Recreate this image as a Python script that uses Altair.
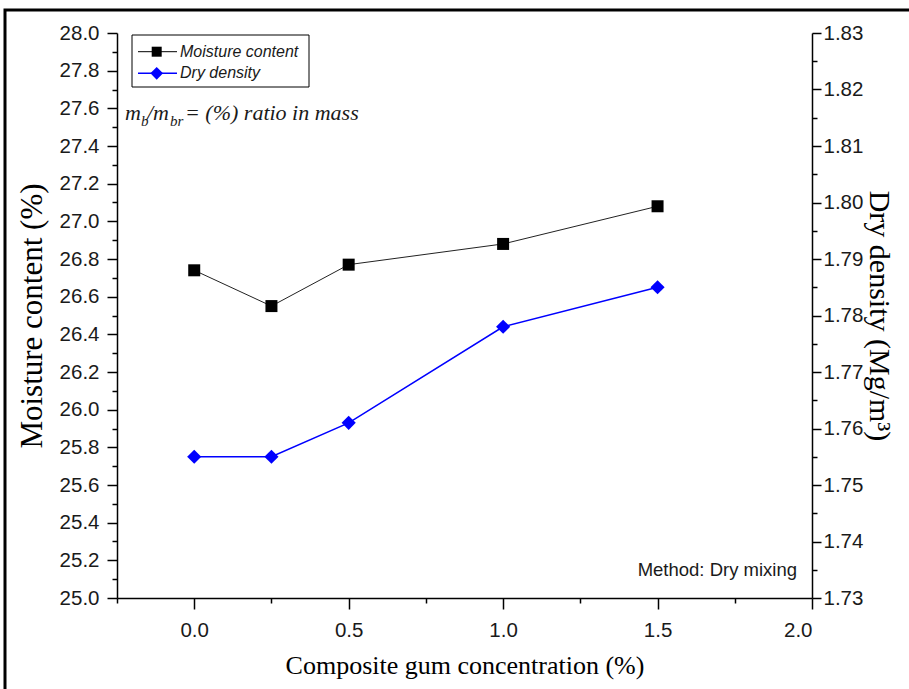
import altair as alt
import pandas as pd

# Measured values
concentration = [0.0, 0.25, 0.5, 1.0, 1.5]          # composite gum concentration (%)
moisture_content = [26.74, 26.55, 26.77, 26.88, 27.08]  # moisture content (%)
dry_density = [1.755, 1.755, 1.761, 1.778, 1.785]      # dry density (Mg/m3)

# Tick positions (major + minor) for each axis
x_ticks = [-0.25, 0.0, 0.25, 0.5, 0.75, 1.0, 1.25, 1.5, 1.75, 2.0]
moisture_ticks = [round(25.0 + 0.1 * i, 1) for i in range(31)]
density_ticks = [round(1.73 + 0.005 * i, 3) for i in range(21)]

df = pd.DataFrame({"conc": concentration, "moisture": moisture_content, "density": dry_density})
one = pd.DataFrame({"k": [0]})

W, H = 695, 565

axis_style = dict(
    grid=False, domainColor="#000", domainWidth=1.5, tickColor="#000", tickWidth=1.5,
    labelFont="Liberation Sans", labelFontSize=20.5, labelColor="#1a1a1a",
    titleFont="Liberation Serif", titleFontWeight="normal", titleColor="#000",
)

def major_test(mult, step):
    return f"abs(round(datum.value*{mult})) % {step} == 0"

x_axis = alt.Axis(
    values=x_ticks,
    labelExpr=f"{major_test(4, 2)} ? format(datum.value, '.1f') : ''",
    tickSize={"condition": {"test": major_test(4, 2), "value": 11}, "value": 5},
    labelPadding=11,
    title="Composite gum concentration (%)", titleFontSize=26,
    titleX=W / 2, titleY=67, titleAlign="center", titleBaseline="middle",
    **axis_style,
)
x_enc = alt.X("conc:Q", scale=alt.Scale(domain=[-0.25, 2.0], nice=False, zero=False), axis=x_axis)

left_axis = alt.Axis(
    orient="left", values=moisture_ticks,
    labelExpr=f"{major_test(10, 2)} ? format(datum.value, '.1f') : ''",
    tickSize={"condition": {"test": major_test(10, 2), "value": 10}, "value": 5},
    labelPadding=8,
    title="Moisture content (%)", titleFontSize=31, titleAngle=-90,
    titleX=-85, titleY=H / 2, titleAlign="center", titleBaseline="middle",
    **axis_style,
)
right_axis = alt.Axis(
    orient="right", values=density_ticks,
    labelExpr=f"{major_test(1000, 10)} ? format(datum.value, '.2f') : ''",
    tickSize={"condition": {"test": major_test(1000, 10), "value": 9}, "value": 5},
    labelPadding=2,
    title="Dry density (Mg/m³)", titleFontSize=30, titleAngle=90,
    titleX=66, titleY=H / 2, titleAlign="center", titleBaseline="middle",
    **axis_style,
)

moist_base = alt.Chart(df).encode(
    x=x_enc,
    y=alt.Y("moisture:Q", scale=alt.Scale(domain=[25.0, 28.0], nice=False, zero=False), axis=left_axis),
)
moisture = alt.layer(
    moist_base.mark_line(color="#222", strokeWidth=1),
    moist_base.mark_point(shape="square", filled=True, size=144, color="#000", opacity=1),
)

dens_base = alt.Chart(df).encode(
    x=x_enc,
    y=alt.Y("density:Q", scale=alt.Scale(domain=[1.73, 1.83], nice=False, zero=False), axis=right_axis),
)
density = alt.layer(
    dens_base.mark_line(color="#0000ff", strokeWidth=1.5),
    dens_base.mark_point(shape="diamond", filled=True, size=200, color="#0000ff", opacity=1),
)

# Outer frame around the figure
frame = alt.Chart(one).mark_rect(filled=False, stroke="#000", strokeWidth=3).encode(
    x=alt.value(-112), x2=alt.value(W + 300), y=alt.value(-23), y2=alt.value(H + 300)
)

# Legend box
leg_box = alt.Chart(one).mark_rect(fill="white", stroke="#000", strokeWidth=1).encode(
    x=alt.value(15), x2=alt.value(192), y=alt.value(2), y2=alt.value(54)
)
leg_line1 = alt.Chart(one).mark_rule(color="#000", strokeWidth=1).encode(
    x=alt.value(21), x2=alt.value(60), y=alt.value(18.7)
)
leg_sym1 = alt.Chart(one).mark_point(shape="square", filled=True, size=100, color="#000", opacity=1).encode(
    x=alt.value(39.7), y=alt.value(18.7)
)
leg_line2 = alt.Chart(one).mark_rule(color="#0000ff", strokeWidth=1.5).encode(
    x=alt.value(21), x2=alt.value(60), y=alt.value(40.3)
)
leg_sym2 = alt.Chart(one).mark_point(shape="diamond", filled=True, size=160, color="#0000ff", opacity=1).encode(
    x=alt.value(39.7), y=alt.value(40.3)
)
leg_style = dict(align="left", baseline="middle", font="Liberation Sans", fontStyle="italic",
                 fontSize=16, color="#1a1a1a")
leg_txt1 = alt.Chart(one).mark_text(**leg_style).encode(
    x=alt.value(63), y=alt.value(18.7), text=alt.value("Moisture content"))
leg_txt2 = alt.Chart(one).mark_text(**leg_style).encode(
    x=alt.value(63), y=alt.value(40.3), text=alt.value("Dry density"))

# Ratio note: m_b / m_br = (%) ratio in mass
note_main = dict(align="left", baseline="alphabetic", font="Liberation Serif", fontStyle="italic",
                 fontSize=22, color="#1a1a1a")
note_sub = dict(note_main, fontSize=15)
note = [
    alt.Chart(one).mark_text(**note_main).encode(x=alt.value(8), y=alt.value(87), text=alt.value("m")),
    alt.Chart(one).mark_text(**note_sub).encode(x=alt.value(24), y=alt.value(93), text=alt.value("b")),
    alt.Chart(one).mark_text(**note_main).encode(x=alt.value(30), y=alt.value(87), text=alt.value("/m")),
    alt.Chart(one).mark_text(**note_sub).encode(x=alt.value(53), y=alt.value(93), text=alt.value("br")),
    alt.Chart(one).mark_text(**note_main).encode(x=alt.value(68), y=alt.value(87),
                                                 text=alt.value("= (%) ratio in mass")),
]

method = alt.Chart(one).mark_text(align="right", baseline="middle", font="Liberation Sans",
                                  fontSize=18.5, color="#1a1a1a").encode(
    x=alt.value(680), y=alt.value(537), text=alt.value("Method: Dry mixing"))

chart = alt.layer(
    frame, moisture, density, leg_box, leg_line1, leg_sym1, leg_line2, leg_sym2,
    leg_txt1, leg_txt2, *note, method,
).resolve_scale(y="independent").properties(
    width=W, height=H,
    autosize=alt.AutoSizeParams(type="none"),
    padding={"left": 117, "top": 33, "right": 97, "bottom": 91},
    background="white",
).configure_view(stroke="transparent")

chart.save("out.html", embed_options={"renderer": "svg", "actions": False})
